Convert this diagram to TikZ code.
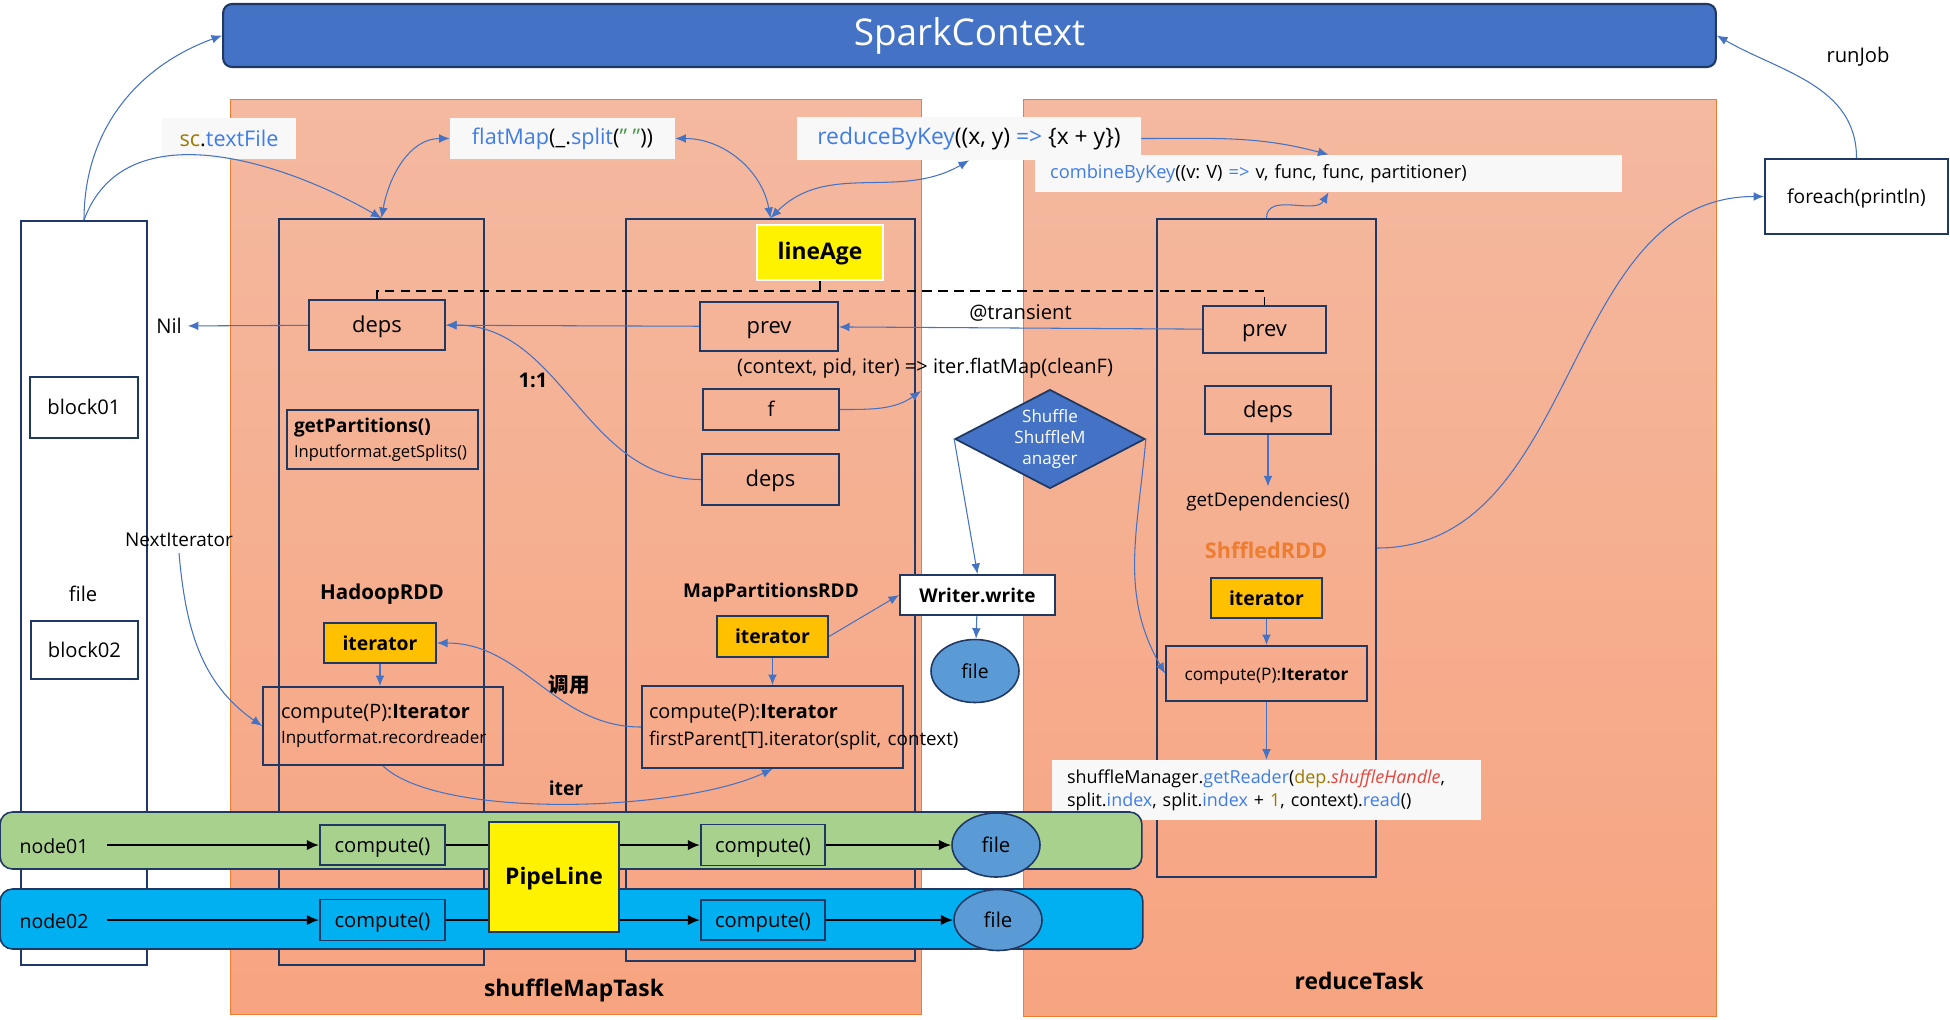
\documentclass[tikz,border=0pt]{standalone}
\usepackage{fontspec}
\usepackage{xcolor}
\setmainfont{Open Sans}
\newfontfamily\cjkfont{Noto Sans CJK SC}
\usetikzlibrary{arrows.meta, shapes.geometric, positioning}

\definecolor{navy}{HTML}{203864}
\definecolor{ctxblue}{HTML}{4472C4}
\definecolor{taskedge}{HTML}{ED7D31}
\definecolor{tasktop}{HTML}{F4B9A0}
\definecolor{taskbot}{HTML}{F7A480}
\definecolor{codebg}{HTML}{F8F8F8}
\definecolor{codeblue}{HTML}{3F7CE8}
\definecolor{codeolive}{HTML}{A07800}
\definecolor{codegreen}{HTML}{4A9A4A}
\definecolor{codered}{HTML}{E8453C}
\definecolor{iterfill}{HTML}{FFC000}
\definecolor{filefill}{HTML}{5B9BD5}
\definecolor{node1fill}{HTML}{A9D18E}
\definecolor{node2fill}{HTML}{00B0F0}
\definecolor{rddorange}{HTML}{ED7D31}

\begin{document}
\frenchspacing
\begin{tikzpicture}[x=0.02cm, y=-0.02cm, >={Latex[length=6pt,width=5pt]},
  lbl/.style={font=\fontsize{11.5}{14}\selectfont},
  bold/.style={font=\fontsize{11}{13}\selectfont\bfseries},
  box/.style={draw=navy, line width=1.1pt, inner sep=0pt, font=\fontsize{11.5}{14}\selectfont},
  onebox/.style={box, text height=0.9em, text depth=0.1em},
  col/.style={draw=navy, line width=1.1pt},
  iterbox/.style={onebox, fill=iterfill, font=\fontsize{11}{13}\selectfont\bfseries},
  codebox/.style={fill=codebg, inner sep=0pt, font=\fontsize{12.3}{15}\selectfont},
  task/.style={draw=taskedge, line width=0.5pt, top color=tasktop, bottom color=taskbot},
  flow/.style={->, draw=ctxblue, line width=0.6pt},
  pipe/.style={-{Latex[length=7pt,width=6pt]}, line width=1.2pt},
  filedisk/.style={ellipse, draw=navy, line width=0.9pt, fill=filefill, inner sep=0pt, font=\fontsize{11}{13}\selectfont},
  band/.style={draw=navy, line width=0.9pt, rounded corners=7pt},
  dashline/.style={line width=1.1pt, dash pattern=on 5.5pt off 3.5pt}]
\useasboundingbox (0,0) rectangle (1950,1019);

\node[draw=navy, line width=1.2pt, fill=ctxblue, rounded corners=5pt, minimum width=29.86cm, minimum height=1.26cm, text=white, font=\fontsize{21}{25}\selectfont] (ctx) at (969.5,35.5) {SparkContext};

% the two tasks
\node[task, minimum width=13.82cm, minimum height=18.32cm] (maptask) at (575.5,557) {};
\node[task, minimum width=13.86cm, minimum height=18.36cm] (redtask) at (1369.5,558) {};

% user code
\node[codebox, minimum width=2.68cm, minimum height=0.82cm] (textfile) at (229,138.5) {\textcolor{codeolive}{sc}.\textcolor{codeblue}{textFile}};
\node[codebox, minimum width=4.5cm, minimum height=0.82cm] (flatmap) at (562.5,138.5) {\textcolor{codeblue}{flatMap}(\_.\textcolor{codeblue}{split}(\textcolor{codegreen}{\symbol{34} \symbol{34}}))};
\node[codebox, minimum width=6.88cm, minimum height=0.86cm, font=\fontsize{13}{15}\selectfont] (reducebykey) at (969,138.5) {\textcolor{codeblue}{reduceByKey}((x, y) \textcolor{codeblue}{=>} \{x + y\})};
\node[codebox, minimum width=11.74cm, minimum height=0.74cm, inner xsep=0.3cm, text width=11.14cm, align=left, font=\fontsize{10.4}{12}\selectfont] (combine) at (1328.5,173.5) {\mbox{\textcolor{codeblue}{combineByKey}((v: V) \textcolor{codeblue}{=>} v, func, func, partitioner)}};

\node[onebox, fill=white, minimum width=3.66cm, minimum height=1.5cm, font=\fontsize{10.9}{13}\selectfont] (foreach) at (1856.5,196.5) {foreach(println)};
\node[lbl] (runjob) at (1858,57) {runJob};

% file
\node[col, fill=white, minimum width=2.52cm, minimum height=14.88cm] (filecol) at (84,593) {};
\node[onebox, minimum width=2.16cm, minimum height=1.22cm] (block01) at (84,407.5) {block01};
\node[lbl] (filelbl) at (83,594) {file};
\node[onebox, minimum width=2.14cm, minimum height=1.16cm] (block02) at (84.5,650) {block02};

% rdd columns
\node[col, minimum width=4.1cm, minimum height=14.92cm] (hcol) at (381.5,592) {};
\node[col, minimum width=5.78cm, minimum height=14.84cm] (mcol) at (770.5,590) {};
\node[col, minimum width=4.38cm, minimum height=13.16cm] (rcol) at (1266.5,548) {};

% HadoopRDD
\node[onebox, minimum width=2.72cm, minimum height=1cm, font=\fontsize{12.5}{15}\selectfont] (hdeps) at (377,325) {deps};
\node[lbl] (nil) at (169,326) {Nil};
\node[box, minimum width=3.82cm, minimum height=1.18cm, inner xsep=0.14cm, text width=3.54cm, align=left] (hparts) at (382.5,439.5) {{\fontsize{10.8}{13}\selectfont\bfseries getPartitions()}\\{\fontsize{9.4}{12}\selectfont Inputformat.getSplits()}};
\node[bold, font=\fontsize{11.7}{14}\selectfont\bfseries] (hname) at (382,594) {HadoopRDD};
\node[iterbox, minimum width=2.24cm, minimum height=0.8cm] (hiter) at (380,643) {iterator};
\node[box, minimum width=4.8cm, minimum height=1.56cm, inner xsep=0.36cm, text width=4.08cm, align=left, font=\fontsize{11.3}{14}\selectfont] (hcompute) at (383,726) {compute(P):\textbf{Iterator}\\{\fontsize{9.7}{12}\selectfont Inputformat.recordreader}};
\node[lbl, font=\fontsize{10.8}{13}\selectfont] (nextiter) at (179,540) {NextIterator};

% MapPartitionsRDD
\node[draw=white, line width=1pt, fill=yellow, minimum width=2.52cm, minimum height=1.1cm, text height=0.9em, text depth=0.1em, font=\fontsize{13}{15}\selectfont\bfseries] (lineage) at (820,252.5) {lineAge};
\node[onebox, minimum width=2.76cm, minimum height=0.98cm, font=\fontsize{12.5}{15}\selectfont] (mprev) at (769,326.5) {prev};
\node[lbl, font=\fontsize{11.4}{14}\selectfont] (closure) at (925,368) {(context, pid, iter) => iter.flatMap(cleanF)};
\node[onebox, minimum width=2.72cm, minimum height=0.82cm] (mf) at (771,409.5) {f};
\node[onebox, minimum width=2.74cm, minimum height=1.02cm, font=\fontsize{12.5}{15}\selectfont] (mdeps) at (770.5,479.5) {deps};
\node[bold, font=\fontsize{10.8}{13}\selectfont\bfseries] (mname) at (771,593) {MapPartitionsRDD};
\node[iterbox, minimum width=2.22cm, minimum height=0.82cm] (miter) at (772.5,636.5) {iterator};
\node[box, minimum width=5.22cm, minimum height=1.64cm, inner xsep=0.14cm, text width=4.94cm, align=left, font=\fontsize{11.3}{14}\selectfont] (mcompute) at (772.5,727) {compute(P):\textbf{Iterator}\\[1pt]{\fontsize{10.7}{13}\selectfont\mbox{firstParent[T].iterator(split, context)}}};
\node[onebox, fill=white, minimum width=3.1cm, minimum height=0.8cm, font=\fontsize{10.8}{13}\selectfont\bfseries] (writer) at (977.5,595) {Writer.write};
\node[filedisk, minimum width=1.76cm, minimum height=1.26cm] (wfile) at (975,671) {file};
\node[diamond, draw=navy, line width=1pt, fill=ctxblue, text=white, aspect=1.92, inner sep=0pt, minimum width=3.8cm, minimum height=1.98cm, align=center, font=\fontsize{9.7}{12}\selectfont] (shuffle) at (1050,439) {Shuffle\\ShuffleM\\anager};

% ShuffledRDD
\node[onebox, minimum width=2.46cm, minimum height=0.94cm, font=\fontsize{12.5}{15}\selectfont] (rprev) at (1264.5,329.5) {prev};
\node[onebox, minimum width=2.52cm, minimum height=0.96cm, font=\fontsize{12.5}{15}\selectfont] (rdeps) at (1268,410) {deps};
\node[lbl, font=\fontsize{10.7}{13}\selectfont] (getdeps) at (1268,502) {getDependencies()};
\node[text=rddorange, font=\fontsize{12.3}{15}\selectfont\bfseries] (rname) at (1266,550) {ShffledRDD};
\node[iterbox, minimum width=2.22cm, minimum height=0.8cm] (riter) at (1266.5,598) {iterator};
\node[onebox, minimum width=4.02cm, minimum height=1.1cm, font=\fontsize{9.8}{12}\selectfont] (rcompute) at (1266.5,673.5) {compute(P):\textbf{Iterator}};
\node[codebox, minimum width=8.58cm, minimum height=1.2cm, inner xsep=0.3cm, text width=7.98cm, align=left, font=\fontsize{10.2}{13}\selectfont] (reader) at (1266.5,790) {\mbox{shuffleManager.\textcolor{codeblue}{getReader}(\textcolor{codeolive}{dep.}\textcolor{codered}{\itshape shuffleHandle},}\\\mbox{split.\textcolor{codeblue}{index}, split.\textcolor{codeblue}{index} + \textcolor{codeolive}{1}, context).\textcolor{codeblue}{read}()}};

\node[bold, font=\fontsize{11.5}{14}\selectfont\bfseries] (oneone) at (533,380) {1:1};
\node[font=\cjkfont\fontsize{11.7}{14}\selectfont\bfseries] (diaoyong) at (569,685) {调用};
\node[bold] (iterlbl) at (566,788) {iter};

% lineage
\draw[dashline] (hdeps.north) -- ++(0,-8) coordinate (dashl) -| (rprev.north);
\draw[dashline] (lineage.south) -- (lineage.south |- dashl);

% connectors
\draw[flow] (filecol.north) to[out=90, in=200] (ctx.west);
\draw[flow] (filecol.north) to[out=70, in=150] (hcol.north);
\draw[flow, <->] (flatmap.west) to[out=180, in=80] (hcol.north);
\draw[flow, <->] (flatmap.east) to[out=0, in=100] (mcol.north);
\draw[flow, <->] (mcol.north) to[out=45, in=210] (reducebykey.south);
\draw[flow] (reducebykey.east) to[out=0, in=165] (combine.north);
\draw[flow] (rcol.north) to[out=90, in=240] (combine.south);
\draw[flow] (foreach.north) to[out=90, in=-30] (ctx.east);
\draw[flow] (rcol.east) to[out=0, in=180] (foreach.west);

\draw[flow] (hdeps) -- (nil);
\draw[flow] (mprev) -- (hdeps);
\draw[flow] (rprev) -- node[lbl, above] (transient) {@transient} (mprev);
\draw[flow] (mdeps.west) to[out=180, in=0] (hdeps.east);
\coordinate (cleanf) at (921,391);
\draw[flow] (mf.east) to[out=0, in=-145] (cleanf);

\draw[flow] (hiter.south) -- (hiter.south |- hcompute.north);
\draw[flow] (miter) -- (mcompute);
\draw[flow] (miter.east) -- (writer.west);
\draw[flow] (writer) -- (wfile);
\draw[flow] (mcompute.west) to[out=180, in=0] (hiter.east);
\draw[flow] (hcompute.south) .. controls +(57,54) and +(-92,43) .. (mcompute.south);
\draw[flow] (nextiter.south) to[out=-85, in=145] (hcompute.west);

\draw[flow] (shuffle.west) -- (writer.north);
\draw[flow] (shuffle.east) to[out=-95, in=120] (rcompute.west);
\draw[flow] (rdeps) -- (getdeps);
\draw[flow] (riter) -- (rcompute);
\draw[flow] (rcompute) -- (reader);

% pipeline
\node[band, fill=node1fill, minimum width=22.84cm, minimum height=1.14cm] (band1) at (571,840.5) {};
\node[band, fill=node2fill, minimum width=22.86cm, minimum height=1.2cm] (band2) at (571.5,919) {};
\node[lbl, font=\fontsize{11.1}{13}\selectfont] (node01) at (54,846) {node01};
\node[lbl, font=\fontsize{11.1}{13}\selectfont] (node02) at (54,921) {node02};
\node[onebox, minimum width=2.5cm, minimum height=0.8cm] (c11) at (382.5,845) {compute()};
\node[onebox, minimum width=2.48cm, minimum height=0.82cm] (c12) at (763,845) {compute()};
\node[onebox, minimum width=2.5cm, minimum height=0.82cm] (c21) at (382.5,920) {compute()};
\node[onebox, minimum width=2.48cm, minimum height=0.8cm] (c22) at (763,920) {compute()};
\node[onebox, fill=yellow, minimum width=2.6cm, minimum height=2.2cm, font=\fontsize{13}{15}\selectfont\bfseries] (pipeline) at (554,877) {PipeLine};
\node[filedisk, minimum width=1.76cm, minimum height=1.28cm, font=\fontsize{11.6}{13}\selectfont] (f1) at (996,845) {file};
\node[filedisk, minimum width=1.76cm, minimum height=1.22cm, font=\fontsize{11.6}{13}\selectfont] (f2) at (998,920) {file};

\draw[pipe, shorten <=7pt] (node01.east |- c11) -- (c11);
\draw[line width=1.2pt] (c11) -- (c11 -| pipeline.west);
\draw[pipe] (c12 -| pipeline.east) -- (c12);
\draw[pipe] (c12) -- (f1);
\draw[pipe, shorten <=7pt] (node02.east |- c21) -- (c21);
\draw[line width=1.2pt] (c21) -- (c21 -| pipeline.west);
\draw[pipe] (c22 -| pipeline.east) -- (c22);
\draw[pipe] (c22) -- (f2);

\node[font=\fontsize{13}{15}\selectfont\bfseries] (maplbl) at (574,990) {shuffleMapTask};
\node[font=\fontsize{13}{15}\selectfont\bfseries] (redlbl) at (1359,981) {reduceTask};
\end{tikzpicture}
\end{document}
